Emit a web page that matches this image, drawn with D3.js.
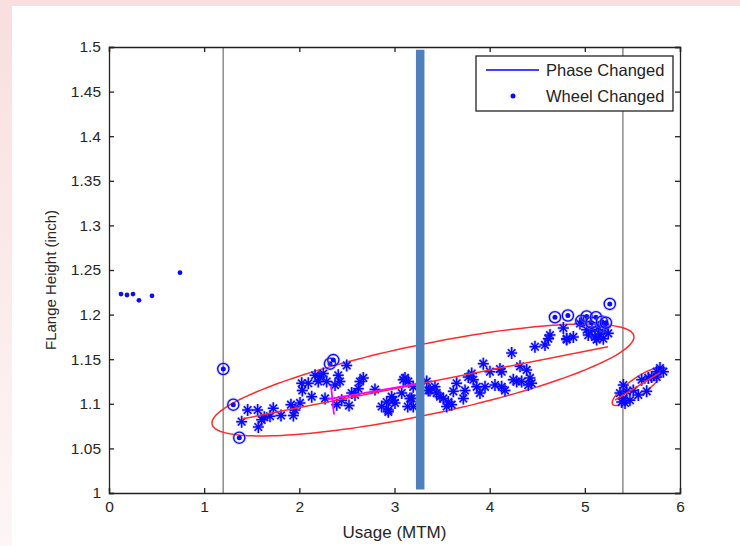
<!DOCTYPE html>
<html>
<head>
<meta charset="utf-8">
<script src="https://cdn.jsdelivr.net/npm/d3@7"></script>
<style>
  html, body { margin: 0; padding: 0; background: #fff; }
  svg { display: block; font-family: "Liberation Sans", Arial, sans-serif; }
</style>
</head>
<body>
<svg width="740" height="546"></svg>
<script>
// ---- data ----
const xTicks = [0, 1, 2, 3, 4, 5, 6];
const yTicks = [1, 1.05, 1.1, 1.15, 1.2, 1.25, 1.3, 1.35, 1.4, 1.45, 1.5];

const phaseX = [3.27];          // thick blue marker line
const boundaryX = [1.2, 5.4];   // thin grey lines

const wheelPoints = [
  [0.126, 1.223], [0.189, 1.222], [0.252, 1.223],
  [0.315, 1.216], [0.452, 1.221], [0.746, 1.247]
];

const starPoints = [
  [1.394, 1.080], [1.457, 1.093], [1.562, 1.093], [1.604, 1.082], [1.569, 1.074],
  [1.632, 1.085], [1.726, 1.095], [1.692, 1.086], [1.807, 1.087], [1.912, 1.099],
  [1.937, 1.087], [2.007, 1.101], [1.954, 1.093], [2.031, 1.115], [2.025, 1.123],
  [2.094, 1.123], [2.130, 1.108], [2.165, 1.132], [2.217, 1.130], [2.199, 1.125],
  [2.252, 1.134], [2.287, 1.125], [2.375, 1.121], [2.409, 1.132], [2.427, 1.125],
  [2.498, 1.143], [2.270, 1.106], [2.393, 1.099], [2.445, 1.104], [2.522, 1.098],
  [2.550, 1.112], [2.637, 1.125], [2.620, 1.117], [2.672, 1.129], [2.585, 1.110],
  [2.795, 1.116], [2.865, 1.097], [2.935, 1.093], [2.918, 1.102], [2.970, 1.108],
  [3.005, 1.101], [3.110, 1.129], [3.076, 1.112], [3.163, 1.106], [3.197, 1.119],
  [3.139, 1.097], [3.145, 1.125], [2.987, 1.104], [3.092, 1.127], [3.181, 1.106],
  [3.197, 1.097], [2.935, 1.091], [3.355, 1.115], [3.338, 1.125],
  [4.231, 1.157], [4.476, 1.164], [4.581, 1.166], [4.809, 1.172], [5.124, 1.172],
  [3.933, 1.145], [4.003, 1.136], [4.108, 1.139], [4.126, 1.136], [4.319, 1.142],
  [4.389, 1.138], [3.811, 1.134], [3.775, 1.130], [3.828, 1.127], [3.653, 1.123],
  [3.741, 1.115], [3.864, 1.119], [3.951, 1.119], [3.898, 1.112], [4.056, 1.121],
  [4.126, 1.119], [4.161, 1.115], [4.248, 1.127], [4.284, 1.125], [4.336, 1.125],
  [4.424, 1.129], [4.441, 1.123], [4.406, 1.121], [3.618, 1.114], [3.723, 1.106],
  [3.443, 1.112], [3.513, 1.106], [3.565, 1.102], [3.548, 1.097], [3.373, 1.115],
  [3.425, 1.119], [3.478, 1.108], [3.601, 1.099],
  [4.634, 1.177], [4.616, 1.173], [4.774, 1.185], [4.809, 1.173], [4.879, 1.175],
  [4.949, 1.190], [5.019, 1.183], [5.036, 1.177], [5.107, 1.175], [5.194, 1.173],
  [5.246, 1.179], [4.984, 1.192], [5.141, 1.186], [5.212, 1.186], [5.075, 1.183],
  [5.159, 1.178],
  [5.404, 1.121], [5.440, 1.114], [5.404, 1.106], [5.387, 1.102], [5.474, 1.104],
  [5.509, 1.115], [5.562, 1.110], [5.597, 1.127], [5.667, 1.129], [5.650, 1.114],
  [5.702, 1.130], [5.755, 1.136], [5.790, 1.140], [5.825, 1.136], [5.755, 1.130],
  [5.369, 1.112], [5.422, 1.101]
];

const ringPoints = [
  [1.201, 1.139], [1.306, 1.099], [1.369, 1.062], [2.322, 1.145], [2.357, 1.149],
  [4.686, 1.197], [4.822, 1.199], [4.963, 1.193], [5.019, 1.198], [5.070, 1.191],
  [5.117, 1.197], [5.180, 1.192], [5.222, 1.191], [5.262, 1.212]
];

// ellipses: centre, half-axis vectors u and v (data units)
const ellipseCenters = [[3.299, 1.1267], [5.556, 1.1192]];
const ellipseU = [[2.217, 0.0482], [0.268, 0.0179]];
const ellipseV = [[0, 0.0402], [0, 0.0114]];

const redAxisLines = [
  [[1.397, 1.083], [5.243, 1.164]],
  [[5.317, 1.104], [5.790, 1.135]]
];
const magentaLines = [
  [[2.291, 1.105], [3.268, 1.123]],
  [[2.333, 1.120], [2.364, 1.088]]
];

// ---- setup ----
const svg = d3.select("svg");
const W = 740, H = 546;

// pink slide frame
const defs = svg.append("defs");
const grad = defs.append("linearGradient")
  .attr("id", "leftFade").attr("x1", 0).attr("y1", 0).attr("x2", 0).attr("y2", 1);
grad.append("stop").attr("offset", "0%").attr("stop-color", "#f9dfdf");
grad.append("stop").attr("offset", "100%").attr("stop-color", "#fdf6f6");

svg.append("rect").attr("width", W).attr("height", H).attr("fill", "#fff");
svg.append("rect").attr("width", W).attr("height", 6).attr("fill", "#f9dfdf");
svg.append("rect").attr("y", 6).attr("width", 12).attr("height", H - 6).attr("fill", "url(#leftFade)");

const x = d3.scaleLinear().domain([0, 6]).range([109, 680]);
const y = d3.scaleLinear().domain([1, 1.5]).range([493, 47]);

const plot = svg.append("g");

/* -----------------------------
   Grey boundary lines
----------------------------- */
plot.selectAll(".bound")
  .data(boundaryX)
  .enter()
  .append("line")
  .attr("x1", d => x(d)).attr("x2", d => x(d))
  .attr("y1", y(1.5)).attr("y2", y(1))
  .attr("stroke", "#8c8c8c")
  .attr("stroke-width", 1.5);

/* -----------------------------
   Ellipses
----------------------------- */
const line = d3.line().x(d => x(d[0])).y(d => y(d[1]));
const ts = d3.range(0, 2 * Math.PI + 0.01, Math.PI / 90);

ellipseCenters.forEach((c, i) => {
  const u = ellipseU[i], v = ellipseV[i];
  const pts = ts.map(t => [
    c[0] + u[0] * Math.cos(t) + v[0] * Math.sin(t),
    c[1] + u[1] * Math.cos(t) + v[1] * Math.sin(t)
  ]);
  plot.append("path")
    .attr("d", line(pts))
    .attr("fill", "none")
    .attr("stroke", "#ff2a2a")
    .attr("stroke-width", 1.5);
});

/* -----------------------------
   Points
----------------------------- */
const blue = "#0a0aff";
const starPath = "M-5.5,0H5.5M0,-6V6M-3.8,-3.8L3.8,3.8M-3.8,3.8L3.8,-3.8";

// soft halo like the blurred original, then the star itself
plot.selectAll(".starHalo")
  .data(starPoints)
  .enter()
  .append("path")
  .attr("transform", d => `translate(${x(d[0])},${y(d[1])})`)
  .attr("d", starPath)
  .attr("stroke", "#8f8fff")
  .attr("stroke-opacity", 0.45)
  .attr("stroke-width", 3.2)
  .attr("fill", "none");

plot.selectAll(".star")
  .data(starPoints)
  .enter()
  .append("path")
  .attr("transform", d => `translate(${x(d[0])},${y(d[1])})`)
  .attr("d", starPath)
  .attr("stroke", blue)
  .attr("stroke-width", 1.5)
  .attr("fill", "none");

const ring = plot.selectAll(".ring")
  .data(ringPoints)
  .enter()
  .append("g")
  .attr("transform", d => `translate(${x(d[0])},${y(d[1])})`);

ring.append("circle").attr("r", 5.6)
  .attr("fill", "none").attr("stroke", "#8f8fff").attr("stroke-opacity", 0.45).attr("stroke-width", 3);
ring.append("circle").attr("r", 5.6)
  .attr("fill", "none").attr("stroke", blue).attr("stroke-width", 1.3);
ring.append("circle").attr("r", 2.5).attr("fill", blue);

plot.selectAll(".wheel")
  .data(wheelPoints)
  .enter()
  .append("circle")
  .attr("cx", d => x(d[0]))
  .attr("cy", d => y(d[1]))
  .attr("r", 2.4)
  .attr("fill", blue);

/* -----------------------------
   Axis lines inside ellipses
----------------------------- */
redAxisLines.forEach(l => {
  plot.append("path").attr("d", line(l))
    .attr("fill", "none").attr("stroke", "#ff2a2a").attr("stroke-width", 1.5);
});
magentaLines.forEach(l => {
  plot.append("path").attr("d", line(l))
    .attr("fill", "none").attr("stroke", "#ff00ff").attr("stroke-width", 1.8);
});

/* -----------------------------
   Phase line (thick blue)
----------------------------- */
plot.selectAll(".phase")
  .data(phaseX)
  .enter()
  .append("line")
  .attr("x1", d => x(d)).attr("x2", d => x(d))
  .attr("y1", y(1.497)).attr("y2", y(1.004))
  .attr("stroke", "#4f7fbd")
  .attr("stroke-width", 8.5);

/* -----------------------------
   Axes (MATLAB box, inward ticks)
----------------------------- */
const fmtY = d => String(+d.toFixed(2));

const gx = svg.append("g").attr("transform", `translate(0,${y(1)})`)
  .call(d3.axisBottom(x).tickValues(xTicks).tickSize(-5).tickPadding(8).tickFormat(d3.format("d")));
const gxTop = svg.append("g").attr("transform", `translate(0,${y(1.5)})`)
  .call(d3.axisTop(x).tickValues(xTicks).tickSize(-5).tickFormat(""));
const gy = svg.append("g").attr("transform", `translate(${x(0)},0)`)
  .call(d3.axisLeft(y).tickValues(yTicks).tickSize(-5).tickPadding(8).tickFormat(fmtY));
const gyRight = svg.append("g").attr("transform", `translate(${x(6)},0)`)
  .call(d3.axisRight(y).tickValues(yTicks).tickSize(-5).tickFormat(""));

[gx, gxTop, gy, gyRight].forEach(g => {
  g.select(".domain").attr("stroke", "#222").attr("stroke-width", 1.3);
  g.selectAll(".tick line").attr("stroke", "#222").attr("stroke-width", 1.3);
  g.selectAll("text")
    .attr("fill", "#262626")
    .style("font-size", "15.5px")
    .style("font-family", "\"Liberation Sans\", Arial, sans-serif");
});

/* -----------------------------
   Axis titles
----------------------------- */
svg.append("text")
  .attr("x", (x(0) + x(6)) / 2)
  .attr("y", 538)
  .attr("text-anchor", "middle")
  .attr("fill", "#262626")
  .style("font-size", "17px")
  .text("Usage (MTM)");

svg.append("text")
  .attr("transform", `translate(56,${(y(1) + y(1.5)) / 2 + 10}) rotate(-90)`)
  .attr("text-anchor", "middle")
  .attr("fill", "#262626")
  .style("font-size", "15px")
  .text("FLange Height (inch)");

/* -----------------------------
   Legend
----------------------------- */
const lg = svg.append("g").attr("transform", "translate(476,56)");
lg.append("rect")
  .attr("width", 197).attr("height", 55)
  .attr("fill", "#fff").attr("stroke", "#222").attr("stroke-width", 1.3);
lg.append("line")
  .attr("x1", 10).attr("x2", 63).attr("y1", 14).attr("y2", 14)
  .attr("stroke", "#0000ff").attr("stroke-width", 1.3);
lg.append("circle").attr("cx", 37).attr("cy", 40).attr("r", 2.5).attr("fill", blue);
lg.append("text").attr("x", 70).attr("y", 14).attr("dy", "0.36em")
  .attr("fill", "#222").style("font-size", "16.5px").text("Phase Changed");
lg.append("text").attr("x", 70).attr("y", 40).attr("dy", "0.36em")
  .attr("fill", "#222").style("font-size", "16.5px").text("Wheel Changed");
</script>
</body>
</html>
